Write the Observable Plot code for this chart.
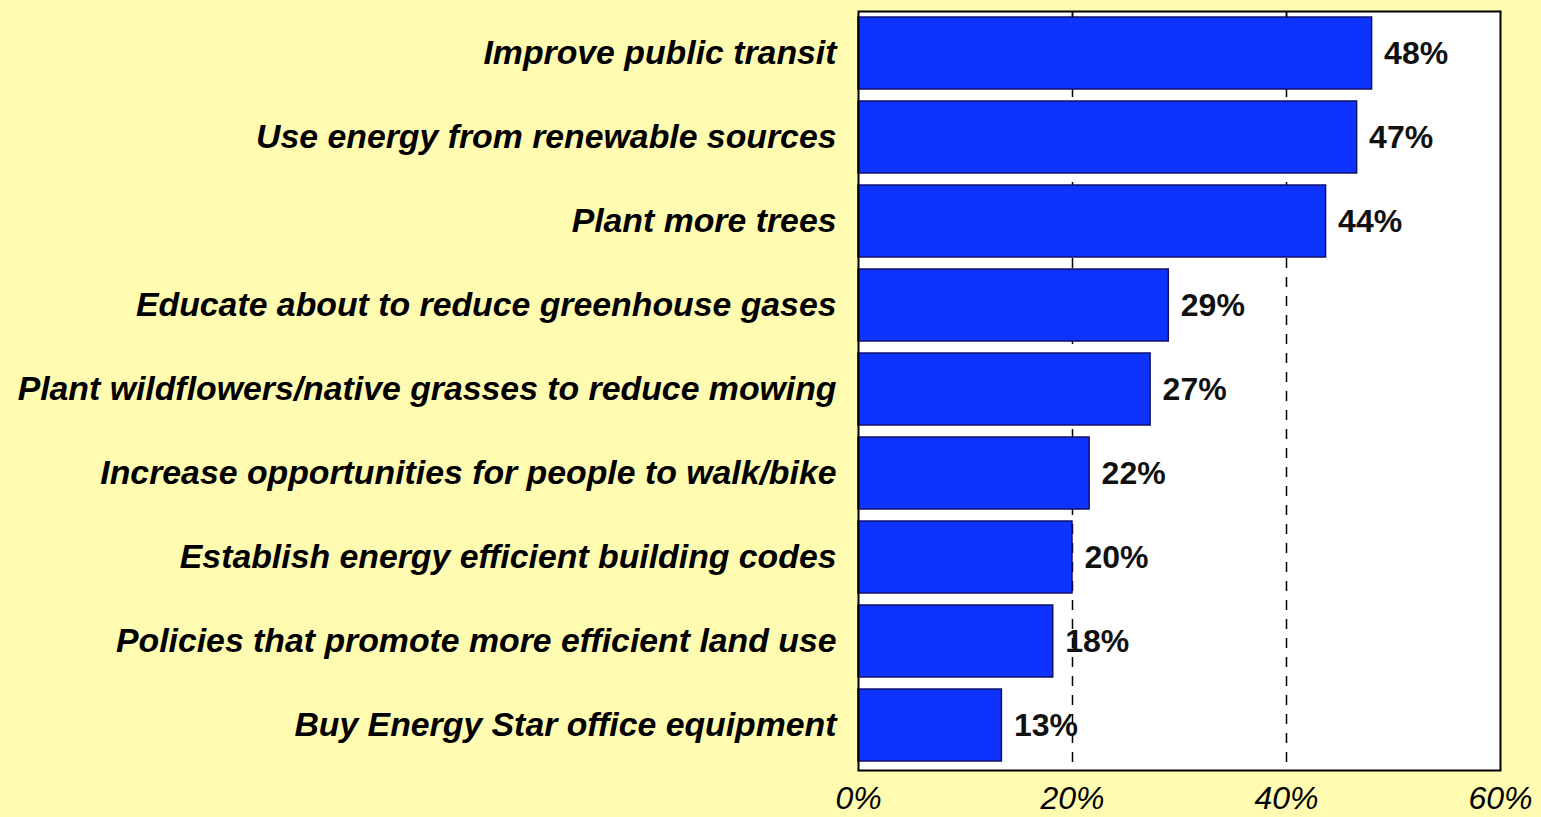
<!DOCTYPE html>
<html>
<head>
<meta charset="utf-8">
<script src="https://cdn.jsdelivr.net/npm/d3@7"></script>
<script src="https://cdn.jsdelivr.net/npm/@observablehq/plot@0.6"></script>
<style>
  html, body { margin: 0; padding: 0; background: #FFFBB0; }
  #chart svg { display: block; }
</style>
</head>
<body>
<div id="chart"></div>
<script>
const categories = [
  "Improve public transit",
  "Use energy from renewable sources",
  "Plant more trees",
  "Educate about to reduce greenhouse gases",
  "Plant wildflowers/native grasses to reduce mowing",
  "Increase opportunities for people to walk/bike",
  "Establish energy efficient building codes",
  "Policies that promote more efficient land use",
  "Buy Energy Star office equipment"
];
const values = [48, 46.6, 43.7, 29, 27.3, 21.6, 20, 18.2, 13.4];
const valueLabels = ["48%", "47%", "44%", "29%", "27%", "22%", "20%", "18%", "13%"];
const xTicks = [0, 20, 40, 60];
const gridTicks = [20, 40];

const data = categories.map((c, i) => ({category: c, value: values[i], label: valueLabels[i]}));

const chart = Plot.plot({
  width: 1541,
  height: 817,
  marginLeft: 858,
  marginRight: 41,
  marginTop: 11,
  marginBottom: 47,
  style: {background: "#FFFBB0", fontFamily: "'Liberation Sans', Arial, sans-serif", color: "black"},
  x: {domain: [0, 60], label: null},
  y: {domain: categories, label: null, padding: 0.139, range: [2, 777]},
  marks: [
    Plot.frame({fill: "white", stroke: "none"}),
    Plot.ruleX(gridTicks, {stroke: "black", strokeWidth: 1.5, strokeDasharray: "10,9"}),
    Plot.barX(data, {x: "value", y: "category", fill: "#0f33ff", stroke: "#10106a", strokeWidth: 1.5}),
    Plot.text(data, {x: "value", y: "category", text: "label", dx: 12, textAnchor: "start", fontSize: 32, fontWeight: "bold", fill: "#111"}),
    Plot.frame({stroke: "black", strokeWidth: 2}),
    Plot.ruleX(gridTicks, {stroke: "black", strokeWidth: 1.5, insetBottom: 753}),
    Plot.axisY({tickSize: 0, tickPadding: 22, fontSize: 33.8, fontStyle: "italic", fontWeight: "bold"}),
    Plot.axisX(xTicks, {tickSize: 0, tickPadding: 16, fontSize: 32, fontStyle: "italic", tickFormat: d => d + "%"})
  ]
});
document.getElementById("chart").appendChild(chart);
</script>
</body>
</html>
